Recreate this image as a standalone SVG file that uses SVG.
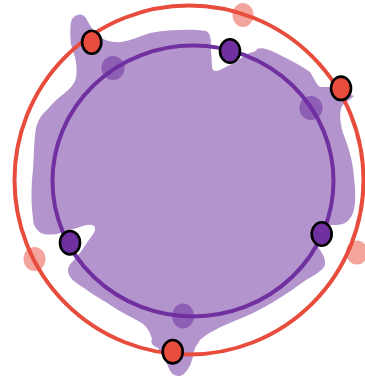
<svg xmlns="http://www.w3.org/2000/svg" width="365" height="377" viewBox="0 0 365 377">
<style>
.blob{fill:#b394cc;stroke:none}
.ring-red{fill:none;stroke:#e74c3c;stroke-width:4}
.ring-purple{fill:none;stroke:#7030a0;stroke-width:4}
.red{fill:#e74c3c;stroke:#000;stroke-width:2.6}
.pur{fill:#7030a0;stroke:#000;stroke-width:2.6}
.fred{fill:#e74c3c;fill-opacity:0.5;stroke:none}
.fpur{fill:#7030a0;fill-opacity:0.55;stroke:none}
</style>
<rect width="365" height="377" fill="#fff"/>
<g id="region">
<path class="blob" d="M77,15 C82,13 86,16 88,22 L95,33 C100,38 108,42 115,42 C125,43 135,38 150,33 C170,29 195,29 206,31 C211,33 211,40 211,50 L212,66 C212,72 216,72 222,69 L237,61 L247,54 C252,52 256,52 257,49 C262,47 270,50 278,54 C290,60 302,66 310,72 C314,78 316,84 320,87 L332,87 L354,96 C350,100 345,102 342,106 C339,112 340,122 343,133 C348,146 353,160 354,178 C356,195 356,210 351,217 C348,222 343,225 336,225 L318,225 C311,226 310,232 314,240 C318,248 325,255 325,262 C326,268 320,272 306,280 C295,288 285,295 275,301 C262,309 248,316 232,322 C218,328 208,333 200,340 L195,348 L192,360 C190,368 184,376 179,376 C173,376 170,372 168,366 L158,348 C153,346 150,343 152,339 C150,332 147,326 140,322 C133,318 127,315 118,310 C108,303 96,297 84,288 C74,282 69,278 68,271 C68,266 71,263 74,260 C78,256 82,250 86,244 C90,238 96,232 95,228 C94,224 88,224 80,227 L60,233 C54,235 46,235 41,233 C35,229 33,224 33,218 C31,205 31,185 33,170 C34,155 34,140 36,128 C38,120 42,114 47,110 C52,104 56,100 61,96 C66,92 71,88 74,83 C77,78 77,70 76,62 C75,55 72,50 71,44 C70,36 70,28 71,22 C72,18 74,16 77,15 Z"/>
</g>
<g id="connectors">
<ellipse class="ring-purple" cx="193" cy="181" rx="140.5" ry="135.5"/>
<circle class="ring-red" cx="189" cy="180" r="174.5"/>
</g>
<g id="faded-purple-1"><ellipse class="fpur" cx="113" cy="68" rx="11.5" ry="12"/></g>
<g id="faded-purple-2"><ellipse class="fpur" cx="311" cy="108" rx="11.5" ry="12"/></g>
<g id="faded-purple-3"><ellipse class="fpur" cx="183" cy="316" rx="11" ry="12.5"/></g>
<g id="faded-red-1"><ellipse class="fred" cx="243" cy="15" rx="10.5" ry="12"/></g>
<g id="faded-red-2"><ellipse class="fred" cx="34.5" cy="259" rx="11" ry="12"/></g>
<g id="faded-red-3"><ellipse class="fred" cx="357" cy="252.5" rx="11" ry="12"/></g>
<g id="purple-top"><ellipse class="pur" cx="230" cy="51" rx="10" ry="11.7"/></g>
<g id="purple-right"><ellipse class="pur" cx="321.7" cy="234" rx="10" ry="11.7"/></g>
<g id="purple-left"><ellipse class="pur" cx="70" cy="242.7" rx="10" ry="11.7"/></g>
<g id="red-top-left"><ellipse class="red" cx="91.7" cy="42.3" rx="9.6" ry="11.5"/></g>
<g id="red-top-right"><ellipse class="red" cx="341" cy="88.3" rx="10" ry="11.7"/></g>
<g id="red-bottom"><ellipse class="red" cx="172.7" cy="351.7" rx="10" ry="11.7"/></g>
</svg>
